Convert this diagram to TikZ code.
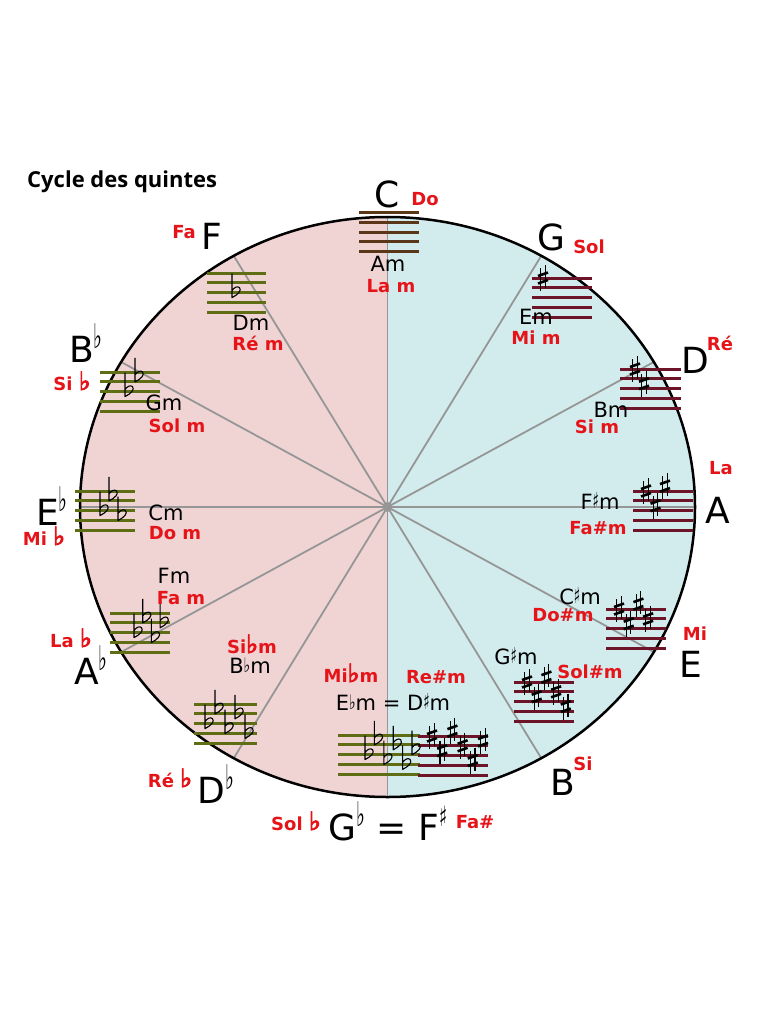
\documentclass[tikz,border=0pt]{standalone}
\usepackage{fontspec}
\setmainfont{DejaVu Sans}
\newfontfamily\titlefont{Open Sans}
\newfontfamily\symf{DejaVu Sans}
\newfontfamily\symfb[FakeBold=4]{DejaVu Sans}
\definecolor{pinkbg}{RGB}{240,212,212}
\definecolor{cyanbg}{RGB}{210,236,238}
\definecolor{spokegray}{RGB}{150,150,150}
\definecolor{redlab}{RGB}{230,20,25}
\definecolor{flatcol}{RGB}{95,110,20}
\definecolor{sharpcol}{RGB}{110,20,40}
\definecolor{ccol}{RGB}{90,55,25}
\newcommand\drawstaff[4]{\foreach \i in {0,...,4}{\draw[staffline,draw=#4] (#1,{#2+\i*9.8}) -- ++(#3,0);}}
\newcommand\sharpsym[2]{%
  \draw[accstem] (#1-2.2,#2-10) -- (#1-2.2,#2+13) (#1+2.2,#2-13) -- (#1+2.2,#2+10);
  \draw[accbar] (#1-5,#2-2) -- (#1+5,#2-5.5) (#1-5,#2+5.5) -- (#1+5,#2+2);}
\newcommand\flatsym[2]{%
  \draw[accstem,line join=round] (#1-3,#2-19) -- (#1-3,#2+5)
    .. controls (#1+3,#2+2) and (#1+7,#2-2) .. (#1+4.5,#2-5)
    .. controls (#1+2.5,#2-7) and (#1-1,#2-5) .. (#1-3,#2-2);}
\newcommand\sharpset[4]{\foreach \p [count=\k] in {#4}{\pgfmathsetmacro\xx{#1+(\k-1)*#3}\pgfmathsetmacro\yy{#2+(\p)*4.9}\sharpsym{\xx}{\yy}}}
\newcommand\flatset[4]{\foreach \p [count=\k] in {#4}{\pgfmathsetmacro\xx{#1+(\k-1)*#3}\pgfmathsetmacro\yy{#2+(\p)*4.9}\flatsym{\xx}{\yy}}}
\newcommand\bflat{\raisebox{14pt}{\scalebox{0.55}[1]{\fontsize{34}{34}\selectfont ♭}}}
\newcommand\bsharp{\raisebox{14pt}{\scalebox{0.6}[1]{\fontsize{28}{28}\selectfont ♯}}}
\newcommand\mflat{\raisebox{1pt}{\scalebox{0.7}[1]{\fontsize{20}{20}\selectfont ♭}}}
\newcommand\msharp{\raisebox{1pt}{\scalebox{0.6}[1]{\fontsize{22}{22}\selectfont ♯}}}
\newcommand\rflat{{\symfb\fontsize{25}{25}\selectfont ♭}}
\begin{document}
\begin{tikzpicture}[x=1pt,y=-1pt,
  staffline/.style={line width=3pt},
  spoke/.style={draw=spokegray,line width=1.8pt},
  accstem/.style={draw=black,line width=1.1pt},
  accbar/.style={draw=black,line width=2.6pt},
  bigl/.style={font=\fontsize{36}{36}\selectfont, anchor=base, inner sep=0},
  redl/.style={font=\fontsize{18}{18}\selectfont\bfseries, text=redlab, anchor=base, inner sep=0},
  minl/.style={font=\fontsize{21}{21}\selectfont, anchor=base, inner sep=0},
]
\useasboundingbox[fill=white] (0,0) rectangle (768,1024);
\coordinate (c) at (387.5,507);
% halves
\begin{scope}
  \clip (0,0) rectangle (387.5,1024);
  \fill[pinkbg] (c) ellipse [x radius=307.5, y radius=290];
\end{scope}
\begin{scope}
  \clip (387.5,0) rectangle (768,1024);
  \fill[cyanbg] (c) ellipse [x radius=307.5, y radius=290];
\end{scope}
% spokes
\foreach \a in {0,30,...,330}{
  \coordinate (s\a) at ({387.5+307.5*cos(\a)},{507-290*sin(\a)});
  \draw[spoke] (c) -- (s\a);
}
\fill[spokegray] (c) circle [radius=5];
\draw[line width=2.5pt] (c) ellipse [x radius=307.5, y radius=290];
% title
\node[font=\titlefont\bfseries\fontsize{22}{22}\selectfont, anchor=base west, inner sep=0] (title) at (27,188) {Cycle des quintes};
% staffs
\drawstaff{359}{212.5}{60}{ccol}
\drawstaff{532}{278}{60}{sharpcol}
\drawstaff{620}{369}{61}{sharpcol}
\drawstaff{633}{491}{60}{sharpcol}
\drawstaff{606}{609}{60}{sharpcol}
\drawstaff{514}{682}{60}{sharpcol}
\drawstaff{338}{735}{82}{flatcol}
\drawstaff{418}{736}{70}{sharpcol}
\drawstaff{194}{704}{63}{flatcol}
\drawstaff{110}{613}{60}{flatcol}
\drawstaff{75}{491}{60}{flatcol}
\drawstaff{100}{372}{60}{flatcol}
\drawstaff{207}{273}{59}{flatcol}
% accidentals
\sharpset{543}{278}{9.5}{0}
\sharpset{635}{369}{9}{0,3}
\sharpset{646}{491}{9.5}{0,3,-1}
\sharpset{619}{609}{9.7}{0,3,-1,2}
\sharpset{527}{682}{9.7}{0,3,-1,2,5}
\sharpset{432}{736}{10.2}{0,3,-1,2,5,1}
\flatset{235}{273}{10}{4}
\flatset{128}{372}{10}{4,1}
\flatset{103}{491}{9}{4,1,5}
\flatset{137}{613}{8.7}{4,1,5,2}
\flatset{208}{704}{10}{4,1,5,2,6}
\flatset{368}{735}{9.4}{4,1,5,2,6,3}
% major labels
\node[bigl] (C) at (387,208) {C};
\node[bigl] (G) at (551,251) {G};
\node[bigl] (D) at (695,373) {D};
\node[bigl] (A) at (718,523) {A};
\node[bigl] (E) at (691,677) {E};
\node[bigl] (B) at (563,795) {B};
\node[bigl] (GbFs) at (388,840) {G\bflat{} = F\bsharp};
\node[bigl] (Db) at (216,803) {D\bflat};
\node[bigl] (Ab) at (91,684) {A\bflat};
\node[bigl] (Eb) at (52,525) {E\bflat};
\node[bigl] (Bb) at (86,362) {B\bflat};
\node[bigl] (F) at (212,249) {F};
% red major names
\node[redl] (Do) at (425,206) {Do};
\node[redl] (Sol) at (589,253) {Sol};
\node[redl] (Re) at (720,350) {Ré};
\node[redl] (La) at (721,474) {La};
\node[redl] (Mi) at (695,640) {Mi};
\node[redl] (Si) at (583,770) {Si};
\node[redl] (Fas) at (475,828) {Fa\#};
\node[redl] (Solb) at (296,830) {Sol \rflat};
\node[redl] (Reb) at (170,787) {Ré \rflat};
\node[redl] (Lab) at (71,647) {La \rflat};
\node[redl] (Mib) at (44,545) {Mi \rflat};
\node[redl] (Sib) at (72,390) {Si \rflat};
\node[redl] (Fa) at (184,238) {Fa};
% red minor names
\node[redl] (Lam) at (391,292) {La m};
\node[redl] (Mim) at (536,344) {Mi m};
\node[redl] (Sim) at (597,433) {Si m};
\node[redl] (Fasm) at (598,534) {Fa\#m};
\node[redl] (Dosm) at (563,621) {Do\#m};
\node[redl] (Solsm) at (590,678) {Sol\#m};
\node[redl] (Resm) at (436,683) {Re\#m};
\node[redl] (Mibm) at (351,682) {Mi\rflat m};
\node[redl] (Sibm) at (252,653) {Si\rflat m};
\node[redl] (Fam) at (181,604) {Fa m};
\node[redl] (Dom) at (175,539) {Do m};
\node[redl] (Solm) at (177,432) {Sol m};
\node[redl] (Rem) at (258,350) {Ré m};
% black minor names
\node[minl] (Am) at (388,271) {Am};
\node[minl] (Em) at (536,324) {Em};
\node[minl] (Bm) at (611,417) {Bm};
\node[minl] (Fsm) at (600,509) {F\msharp m};
\node[minl] (Csm) at (580,604) {C\msharp m};
\node[minl] (Gsm) at (516,664) {G\msharp m};
\node[minl] (EbmDsm) at (393,710) {E\mflat m = D\msharp m};
\node[minl] (Bbm) at (250,673) {B\mflat m};
\node[minl] (Fm) at (174,583) {Fm};
\node[minl] (Cm) at (166,520) {Cm};
\node[minl] (Gm) at (164,410) {Gm};
\node[minl] (Dm) at (251,330) {Dm};
\end{tikzpicture}
\end{document}
